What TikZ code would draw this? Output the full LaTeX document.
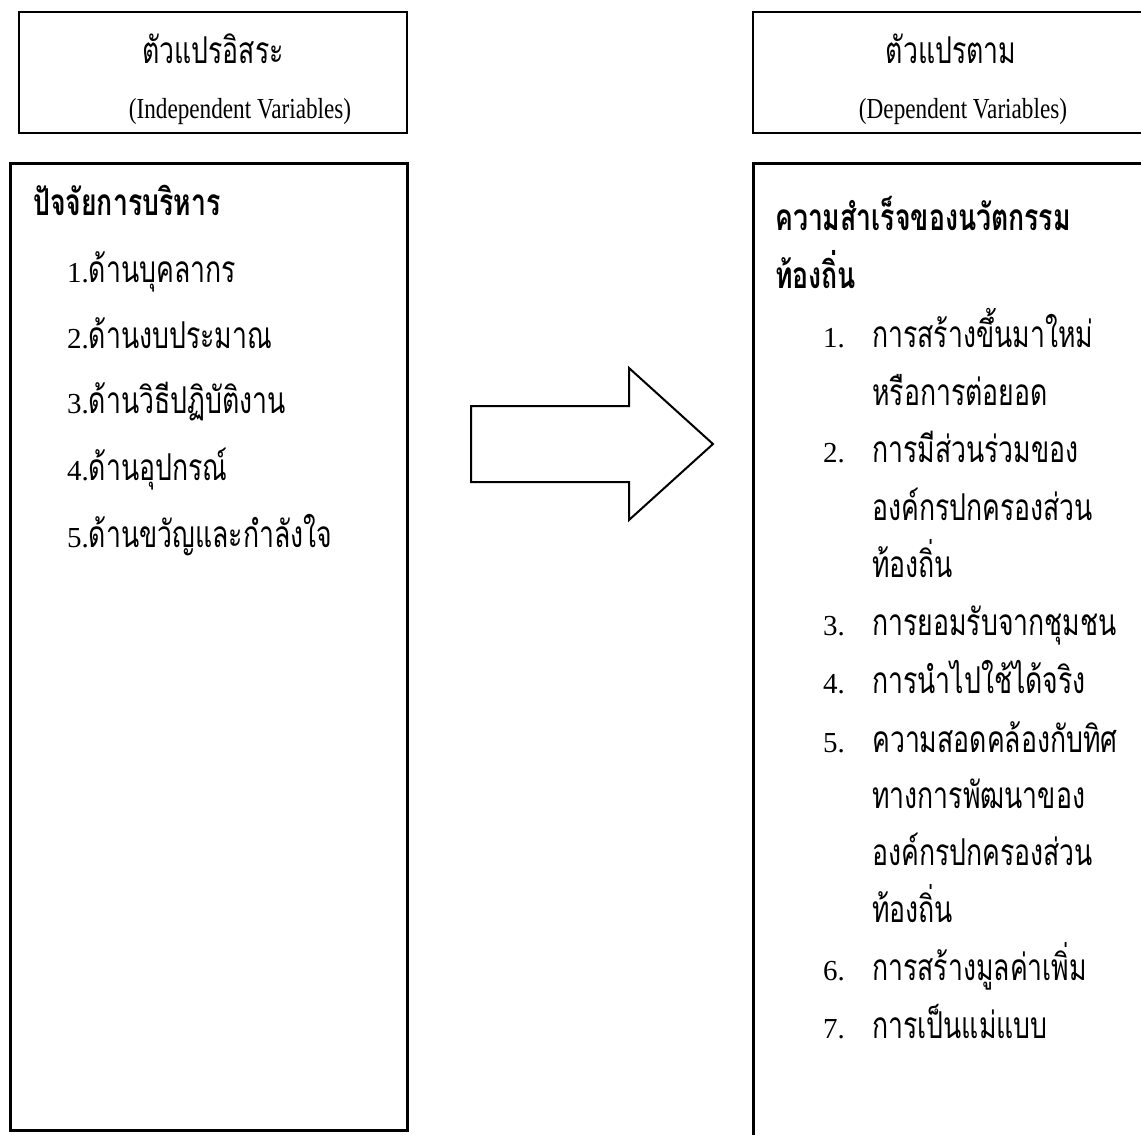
\documentclass[tikz,border=0pt]{standalone}
\usepackage{fontspec}
\setmainfont[FakeStretch=0.8]{Liberation Serif}
\newfontfamily\numfont{Liberation Serif}
\newfontfamily\thaifont[Script=Thai,FakeStretch=0.72,Scale=1.276]{Loma}
\newcommand\thx[1]{{\thaifont #1}}
\newcommand\nx[1]{{\numfont #1}}
\begin{document}
\begin{tikzpicture}[x=1pt,y=-1pt,
  txt/.style={inner sep=0pt,anchor=base west,font=\fontsize{29}{34}\selectfont},
  ctxt/.style={inner sep=0pt,anchor=base,font=\fontsize{29}{34}\selectfont},
  hbox/.style={draw,line width=2pt},
  bbox/.style={draw,line width=3pt}]
\clip (0,0) rectangle (1141,1135);
\fill[white] (0,0) rectangle (1141,1135);
% boxes
\draw[hbox] (19,12) rectangle (407,133);
\draw[hbox] (753,12) rectangle (1170,133);
\draw[bbox] (10,163) rectangle (407,1130);
\draw[bbox] (753,163) rectangle (1170,1160);
% arrow
\draw[line width=2pt,line join=miter]
  (471,406) -- (629,406) -- (629,368) -- (713,444) -- (629,520) -- (629,482) -- (471,482) -- cycle;
% headers
\node[ctxt] (h1) at (213,63) {\thx{ตัวแปรอิสระ}};
\node[ctxt] (h1e) at (240,118) {(Independent Variables)};
\node[ctxt] (h2) at (951,63) {\thx{ตัวแปรตาม}};
\node[ctxt] (h2e) at (963,118) {(Dependent Variables)};
% left box
\node[txt] (lt) at (33,215) {\thx{\bfseries ปัจจัยการบริหาร}};
\node[txt] (l1) at (67,282) {\nx{1.}\thx{ด้านบุคลากร}};
\node[txt] (l2) at (67,348) {\nx{2.}\thx{ด้านงบประมาณ}};
\node[txt] (l3) at (67,413) {\nx{3.}\thx{ด้านวิธีปฏิบัติงาน}};
\node[txt] (l4) at (67,480) {\nx{4.}\thx{ด้านอุปกรณ์}};
\node[txt] (l5) at (67,547) {\nx{5.}\thx{ด้านขวัญและกำลังใจ}};
% right box
\node[txt] (rt1) at (775,230) {\thx{\bfseries ความสำเร็จของนวัตกรรม}};
\node[txt] (rt2) at (775,288) {\thx{\bfseries ท้องถิ่น}};
\node[txt] (n1) at (823,347) {\nx{1.}};
\node[txt] (r1a) at (872,347) {\thx{การสร้างขึ้นมาใหม่}};
\node[txt] (r1b) at (872,405) {\thx{หรือการต่อยอด}};
\node[txt] (n2) at (823,462) {\nx{2.}};
\node[txt] (r2a) at (872,462) {\thx{การมีส่วนร่วมของ}};
\node[txt] (r2b) at (872,520) {\thx{องค์กรปกครองส่วน}};
\node[txt] (r2c) at (872,577) {\thx{ท้องถิ่น}};
\node[txt] (n3) at (823,635) {\nx{3.}};
\node[txt] (r3a) at (872,635) {\thx{การยอมรับจากชุมชน}};
\node[txt] (n4) at (823,693) {\nx{4.}};
\node[txt] (r4a) at (872,693) {\thx{การนำไปใช้ได้จริง}};
\node[txt] (n5) at (823,752) {\nx{5.}};
\node[txt] (r5a) at (872,752) {\thx{ความสอดคล้องกับทิศ}};
\node[txt] (r5b) at (872,808) {\thx{ทางการพัฒนาของ}};
\node[txt] (r5c) at (872,865) {\thx{องค์กรปกครองส่วน}};
\node[txt] (r5d) at (872,922) {\thx{ท้องถิ่น}};
\node[txt] (n6) at (823,980) {\nx{6.}};
\node[txt] (r6a) at (872,980) {\thx{การสร้างมูลค่าเพิ่ม}};
\node[txt] (n7) at (823,1038) {\nx{7.}};
\node[txt] (r7a) at (872,1038) {\thx{การเป็นแม่แบบ}};
\end{tikzpicture}
\end{document}
